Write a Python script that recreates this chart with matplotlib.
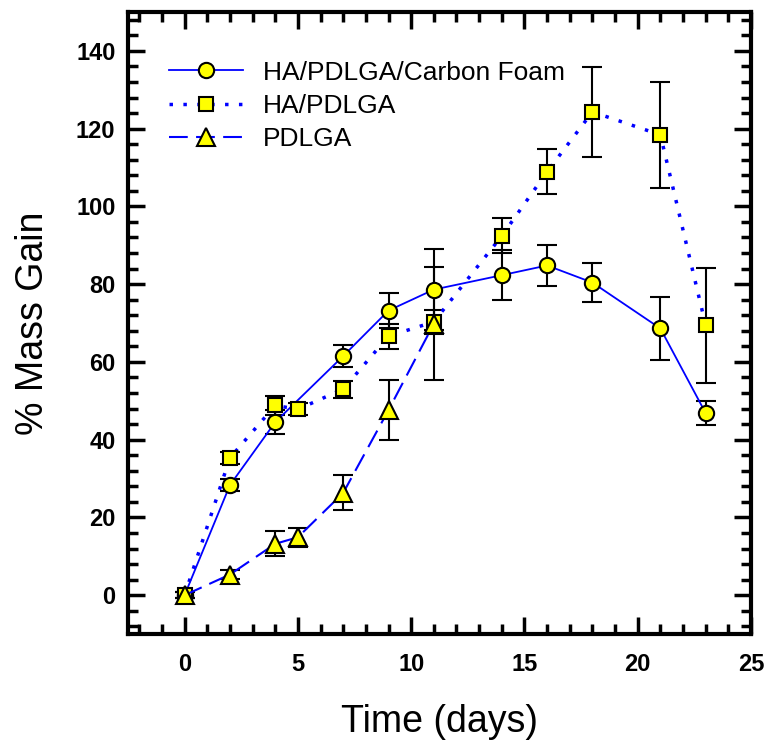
import numpy as np
import matplotlib.pyplot as plt
from matplotlib.ticker import MultipleLocator

plt.rcParams['font.family'] = ['Liberation Sans', 'DejaVu Sans']

# Datos
t_foam = [0, 2, 4, 7, 9, 11, 14, 16, 18, 21, 23]
m_foam = [0, 28.3, 44.5, 61.5, 73.2, 78.6, 82.3, 84.8, 80.4, 68.6, 46.8]
e_foam = [0.8, 1.5, 3.0, 2.8, 4.5, 10.5, 6.5, 5.3, 5.0, 8.2, 3.1]

t_ha = [0, 2, 4, 5, 7, 9, 11, 14, 16, 18, 21, 23]
m_ha = [0, 35.3, 48.8, 47.8, 53.0, 66.6, 70.3, 92.4, 108.9, 124.3, 118.4, 69.4]
e_ha = [0.8, 1.5, 2.5, 1.5, 2.2, 3.2, 3.0, 4.5, 5.8, 11.6, 13.7, 14.8]

t_pd = [0, 2, 4, 5, 7, 9, 11]
m_pd = [0, 5.3, 13.2, 14.9, 26.3, 47.6, 69.8]
e_pd = [0.8, 1.2, 3.2, 2.5, 4.5, 7.7, 14.5]

fig = plt.figure(figsize=(7.69, 7.44), dpi=100)
ax = fig.add_axes([0.1664, 0.1478, 0.8102, 0.8361])

mk = dict(markerfacecolor='yellow', markeredgecolor='black', markeredgewidth=1.5,
          color='blue', ecolor='black', elinewidth=1.5, capsize=7, capthick=1.5)

ax.errorbar(t_foam, m_foam, yerr=e_foam, fmt='o', linestyle='-', linewidth=1.3,
            markersize=11, label='HA/PDLGA/Carbon Foam', **mk)
ax.errorbar(t_ha, m_ha, yerr=e_ha, fmt='s', linestyle=(0, (1, 3)), linewidth=2.5,
            markersize=10, label='HA/PDLGA', **mk)
ax.errorbar(t_pd, m_pd, yerr=e_pd, fmt='^', linestyle=(0, (9, 4)), linewidth=1.5,
            markersize=13, label='PDLGA', **mk)

ax.set_xlim(-2.5, 25)
ax.set_ylim(-10, 150)
ax.xaxis.set_major_locator(MultipleLocator(5))
ax.xaxis.set_minor_locator(MultipleLocator(1))
ax.yaxis.set_minor_locator(MultipleLocator(4))
ax.set_yticks(np.arange(0, 141, 20))

ax.tick_params(which='both', direction='in', top=True, right=True, width=2.5)
ax.tick_params(which='major', length=12, labelsize=17)
ax.tick_params(axis='x', which='major', pad=14)
ax.tick_params(axis='y', which='major', pad=9)
ax.tick_params(which='minor', length=7)
for lbl in ax.get_xticklabels() + ax.get_yticklabels():
    lbl.set_fontweight('bold')
for s in ax.spines.values():
    s.set_linewidth(3)

ax.set_xlabel('Time (days)', fontsize=27, labelpad=20)
ax.set_ylabel('% Mass Gain', fontsize=27, labelpad=18)

handles, labels = ax.get_legend_handles_labels()
handles = [h[0] for h in handles]
ax.legend(handles, labels, loc='upper left', frameon=False, fontsize=19,
          handlelength=2.8, handletextpad=0.75, bbox_to_anchor=(0.028, 0.96),
          labelspacing=0.35)

fig.savefig('out.png', dpi=100)
